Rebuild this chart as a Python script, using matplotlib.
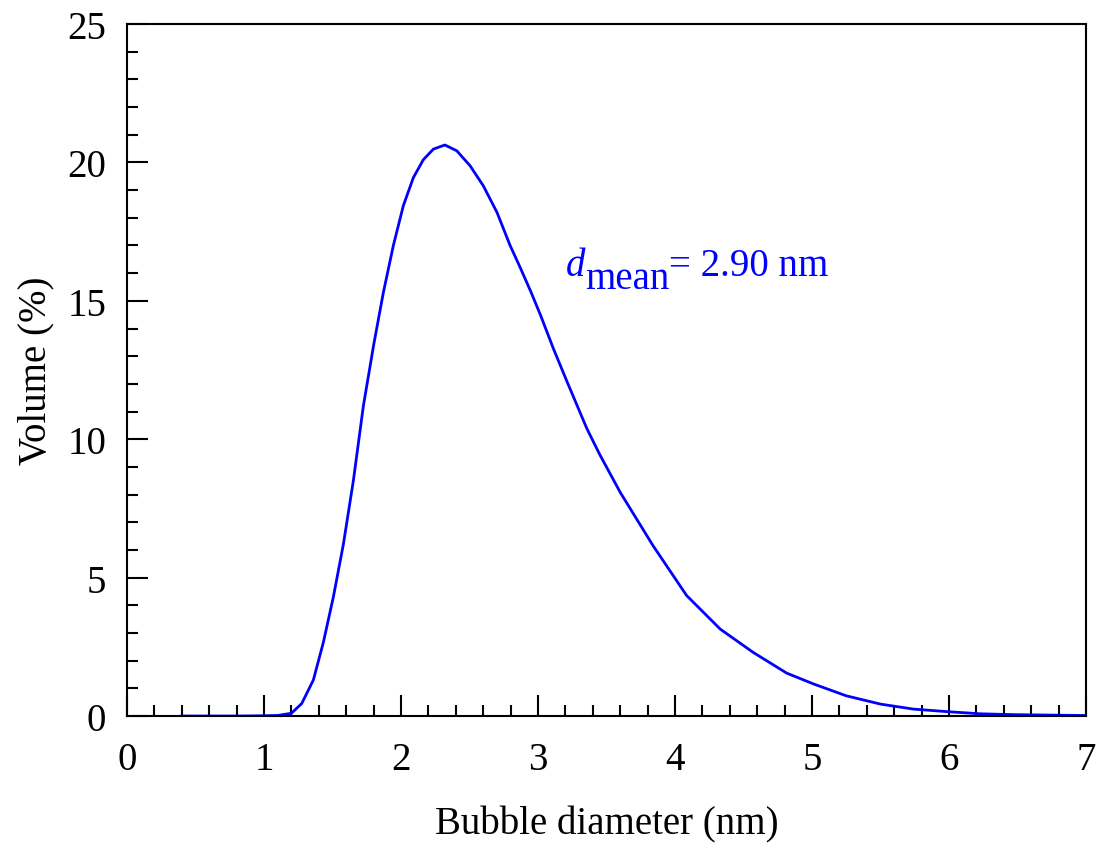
import matplotlib
matplotlib.use("Agg")
import matplotlib.pyplot as plt
from matplotlib.ticker import MultipleLocator

# Bubble size distribution
diameter = [0.4, 0.8, 1.0, 1.1, 1.2, 1.275, 1.36, 1.433, 1.506, 1.579, 1.652,
            1.725, 1.80, 1.871, 1.944, 2.017, 2.09, 2.163, 2.236, 2.32, 2.407,
            2.504, 2.60, 2.70, 2.796, 2.87, 2.95, 3.02, 3.11, 3.21, 3.355,
            3.45, 3.60, 3.84, 4.085, 4.33, 4.57, 4.815, 5.01, 5.25, 5.50,
            5.74, 5.98, 6.23, 6.47, 6.96, 7.0]
volume = [0.0, 0.0, 0.01, 0.02, 0.1, 0.45, 1.3, 2.66, 4.3, 6.2, 8.5,
          11.2, 13.4, 15.3, 17.0, 18.44, 19.45, 20.1, 20.48, 20.63, 20.42,
          19.88, 19.16, 18.2, 17.0, 16.2, 15.3, 14.46, 13.3, 12.1, 10.4,
          9.45, 8.08, 6.15, 4.35, 3.14, 2.30, 1.55, 1.16, 0.73, 0.43,
          0.25, 0.16, 0.08, 0.05, 0.02, 0.02]

plt.rcParams['font.family'] = ['Liberation Serif', 'DejaVu Serif']
plt.rcParams['font.size'] = 28

fig = plt.figure(figsize=(10.97, 8.54), dpi=100)
ax = fig.add_axes([0.1158, 0.1604, 0.8742, 0.8103])

ax.plot(diameter, volume, color='#0000FF', lw=2.0)

ax.set_xlim(0, 7)
ax.set_ylim(0, 25)
ax.xaxis.set_major_locator(MultipleLocator(1))
ax.xaxis.set_minor_locator(MultipleLocator(0.2))
ax.yaxis.set_major_locator(MultipleLocator(5))
ax.yaxis.set_minor_locator(MultipleLocator(1))
ax.tick_params(which='both', direction='in', width=1.5, top=False, right=False)
ax.tick_params(which='major', length=15)
ax.tick_params(which='minor', length=8)
ax.tick_params(axis='x', which='major', pad=18)
ax.tick_params(axis='y', which='major', pad=15)
for s in ax.spines.values():
    s.set_linewidth(1.5)

ax.set_xlabel('Bubble diameter (nm)', labelpad=20)
ax.set_ylabel('Volume (%)', labelpad=9)

# d_mean annotation, pieced together so the subscript keeps a full size
t1 = ax.text(3.2, 15.6, 'd', style='italic', color='#0000FF', va='bottom')
t2 = ax.annotate('mean', xy=(1, 0), xycoords=t1, xytext=(0, -9),
                 textcoords='offset points', color='#0000FF', va='bottom')
ax.annotate('= 2.90 nm', xy=(1, 0), xycoords=(t2, t1), color='#0000FF',
            va='bottom')

fig.savefig('out.png', dpi=100)
